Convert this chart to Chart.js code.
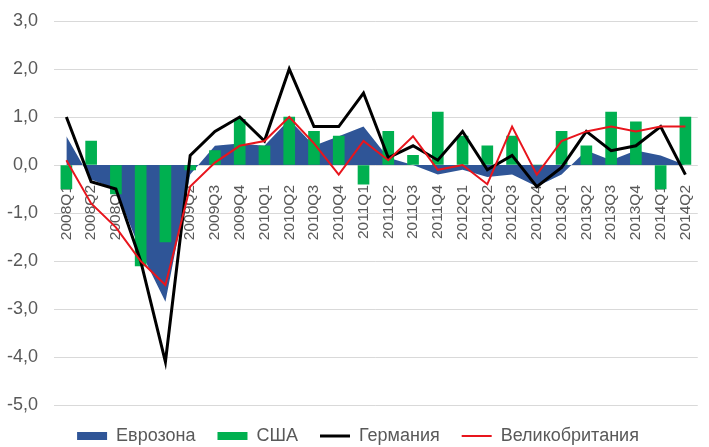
<!DOCTYPE html>
<html>
<head>
<meta charset="utf-8">
<title>ВВП, кв/кв</title>
<script src="https://cdn.jsdelivr.net/npm/chart.js@4/dist/chart.umd.min.js"></script>
<style>
    html, body { margin: 0; padding: 0; background: #fff; overflow: hidden; }
    #wrap { width: 716px; height: 447px; }
</style>
</head>
<body>
<div id="wrap"><canvas id="gdp-chart"></canvas></div>
<script>
const quarters = ['2008Q1', '2008Q2', '2008Q3', '2008Q4', '2009Q1', '2009Q2', '2009Q3', '2009Q4',
    '2010Q1', '2010Q2', '2010Q3', '2010Q4', '2011Q1', '2011Q2', '2011Q3', '2011Q4',
    '2012Q1', '2012Q2', '2012Q3', '2012Q4', '2013Q1', '2013Q2', '2013Q3', '2013Q4',
    '2014Q1', '2014Q2'];

const eurozone = [0.6, -0.3, -0.5, -1.8, -2.85, -0.2, 0.4, 0.45, 0.4, 0.95, 0.4, 0.6, 0.8,
    0.15, 0.0, -0.2, -0.1, -0.25, -0.2, -0.45, -0.2, 0.3, 0.1, 0.3, 0.2, 0.0];
const usa = [-0.5, 0.5, -0.6, -2.1, -1.6, -0.1, 0.3, 0.95, 0.4, 1.0, 0.7, 0.6, -0.4,
    0.7, 0.2, 1.1, 0.6, 0.4, 0.6, 0.0, 0.7, 0.4, 1.1, 0.9, -0.5, 1.0];
const germany = [1.0, -0.35, -0.5, -2.0, -4.1, 0.2, 0.7, 1.0, 0.5, 2.0, 0.8, 0.8, 1.5,
    0.15, 0.4, 0.1, 0.7, -0.1, 0.2, -0.45, -0.05, 0.7, 0.3, 0.4, 0.8, -0.2];
const uk = [0.1, -0.8, -1.3, -2.0, -2.5, -0.45, 0.05, 0.4, 0.5, 1.0, 0.45, -0.2, 0.5,
    0.1, 0.6, -0.1, 0.0, -0.4, 0.8, -0.2, 0.5, 0.7, 0.8, 0.7, 0.8, 0.8];

Chart.defaults.font.family = '"Liberation Sans", Arial, sans-serif';
const textGrey = '#595959';

const gdpChart = new Chart(document.getElementById('gdp-chart'), {
    type: 'bar',
    data: {
        labels: quarters,
        datasets: [
            {
                type: 'line',
                label: 'Еврозона',
                data: eurozone,
                backgroundColor: '#2F5597',
                borderColor: 'rgba(0,0,0,0)',
                borderWidth: 0,
                pointRadius: 0,
                tension: 0,
                fill: 'origin',
                order: 4
            },
            {
                type: 'bar',
                label: 'США',
                data: usa,
                backgroundColor: '#00B050',
                barThickness: 11,
                order: 3
            },
            {
                type: 'line',
                label: 'Германия',
                data: germany,
                borderColor: '#000000',
                backgroundColor: '#000000',
                borderWidth: 3,
                pointRadius: 0,
                tension: 0,
                fill: false,
                order: 2
            },
            {
                type: 'line',
                label: 'Великобритания',
                data: uk,
                borderColor: '#E8151D',
                backgroundColor: '#E8151D',
                borderWidth: 2,
                pointRadius: 0,
                tension: 0,
                fill: false,
                order: 1
            }
        ]
    },
    options: {
        responsive: true,
        maintainAspectRatio: false,
        animation: false,
        layout: {
            padding: { top: 21, bottom: -8, left: 0, right: 0 }
        },
        plugins: {
            tooltip: { enabled: false },
            legend: {
                position: 'bottom',
                labels: {
                    usePointStyle: true,
                    pointStyleWidth: 30,
                    boxHeight: 8,
                    padding: 22,
                    color: textGrey,
                    font: { size: 18 },
                    sort: (a, b) => a.datasetIndex - b.datasetIndex,
                    generateLabels: function(chart) {
                        const items = Chart.defaults.plugins.legend.labels.generateLabels(chart);
                        items.forEach((item) => {
                            const ds = chart.data.datasets[item.datasetIndex];
                            if (ds.type === 'line' && !ds.fill) {
                                item.pointStyle = 'line';
                                item.strokeStyle = ds.borderColor;
                                item.lineWidth = ds.borderWidth;
                            } else {
                                item.pointStyle = 'rect';
                                item.fillStyle = ds.backgroundColor;
                                item.lineWidth = 0;
                            }
                        });
                        return items;
                    }
                }
            }
        },
        scales: {
            x: {
                position: { y: 0 },
                offset: true,
                z: 1,
                grid: { display: false },
                border: { display: false },
                ticks: {
                    minRotation: 90,
                    maxRotation: 90,
                    autoSkip: false,
                    padding: 12,
                    color: textGrey,
                    font: { size: 15.5 }
                }
            },
            y: {
                min: -5,
                max: 3,
                grid: { color: '#D9D9D9', drawTicks: false },
                border: { display: false },
                ticks: {
                    stepSize: 1,
                    padding: 16,
                    color: textGrey,
                    font: { size: 18 },
                    callback: (value) => value.toFixed(1).replace('.', ',')
                },
                afterFit: function(scale) {
                    // fixed axis width, no extra label padding above/below the plot
                    scale.width = 54;
                    scale.paddingTop = 0;
                    scale.paddingBottom = 0;
                }
            }
        }
    }
});
</script>
</body>
</html>
